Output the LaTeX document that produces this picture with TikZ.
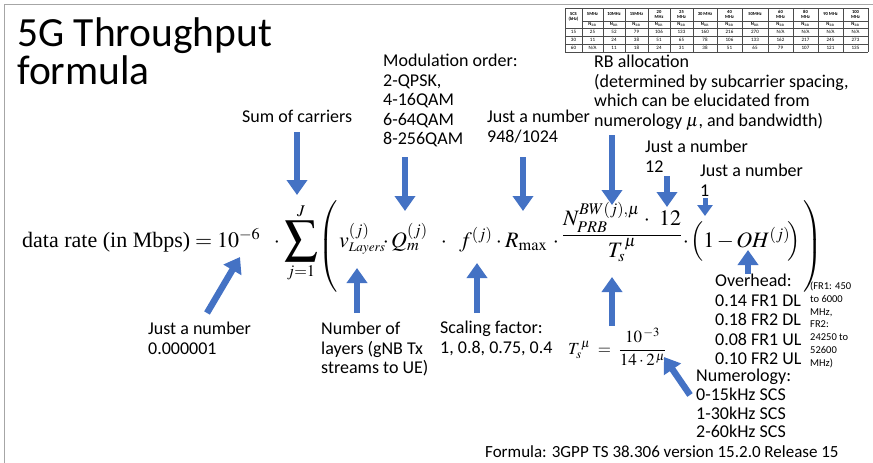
\documentclass[tikz,border=0pt]{standalone}
\usepackage{mathptmx}
\usepackage[no-math]{fontspec}
\usepackage{graphicx}
\setmainfont{Carlito}
\newfontfamily\tms{Liberation Serif}
\usetikzlibrary{arrows.meta}
\definecolor{arrowblue}{HTML}{4472C4}
\definecolor{framegray}{HTML}{A6A6A6}
\newcommand{\tblna}{N/A}
\tikzset{
  lbl/.style={font=\fontsize{18}{19.5}\selectfont, align=left, inner sep=0pt, anchor=north west},
  arr/.style={draw=arrowblue, line width=6.5pt, -{Triangle[width=20pt,length=15pt]}},
  arrsmall/.style={draw=arrowblue, line width=5pt, -{Triangle[width=15pt,length=11pt]}},
  tblline/.style={draw=black!70, line width=0.4pt},
  tblhd/.style={font=\fontsize{4.6}{5}\selectfont\bfseries, align=center, inner sep=0pt},
  tbltxt/.style={font=\fontsize{5}{5.5}\selectfont, inner sep=0pt},
  fm/.style={inner sep=0pt, font=\fontsize{22}{24}\selectfont},
}
\begin{document}
\begin{tikzpicture}[x=1pt,y=-1pt]
\useasboundingbox (0,0) rectangle (873,463);
% frame
\draw[framegray, line width=1pt] (4,463) -- (4,4) -- (873,4);

% title
\node[anchor=north west, inner sep=0pt, align=left, font=\fontsize{41.5}{38}\selectfont] (title) at (17,17) {5G Throughput\\formula};

% table
\foreach \y in {8,28,36,44,52} \draw[tblline] (565,\y) -- (868,\y);
\draw[tblline] (582,21) -- (868,21);
\foreach \x in {565,582,603,625,648,670,693,717,742,768,793,818,843,868} \draw[tblline] (\x,8) -- (\x,52);
\node[tblhd] (scs) at (573.5,17) {SCS\\(kHz)};
\node[tbltxt] (r15) at (573.5,32) {15};
\node[tbltxt] (r30) at (573.5,40) {30};
\node[tbltxt] (r60) at (573.5,48) {60};
\foreach \a/\b/\hd/\ra/\rb/\rc [count=\i] in {
  582/603/{5MHz}/25/11/\tblna,
  603/625/{10MHz}/52/24/11,
  625/648/{15MHz}/79/38/18,
  648/670/{20\\MHz}/106/51/24,
  670/693/{25\\MHz}/133/65/31,
  693/717/{30 MHz}/160/78/38,
  717/742/{40\\MHz}/216/106/51,
  742/768/{50MHz}/270/133/65,
  768/793/{60\\MHz}/\tblna/162/79,
  793/818/{80\\MHz}/\tblna/217/107,
  818/843/{90 MHz}/\tblna/245/121,
  843/868/{100\\MHz}/\tblna/273/135} {
  \node[tblhd] (h\i) at ({(\a+\b)/2},14.5) {\hd};
  \node[tblhd] (n\i) at ({(\a+\b)/2},24.5) {N$_{\mathrm{RB}}$};
  \node[tbltxt] (a\i) at ({(\a+\b)/2},32) {\ra};
  \node[tbltxt] (b\i) at ({(\a+\b)/2},40) {\rb};
  \node[tbltxt] (c\i) at ({(\a+\b)/2},48) {\rc};
}

% main formula, piece by piece
\node[fm, anchor=base west] (fA) at (22,247) {$\mbox{\tms data rate (in Mbps)} = 10^{-6}$};
\node[fm, anchor=base] (d1) at (277,247) {$\cdot$};
\node[fm, anchor=base] (fsum) at (301,247) {$\displaystyle\mathop{\vcenter{\hbox{\scalebox{1.5}{$\displaystyle\sum$}}}}\limits_{j=1}^{J}$};
\node[fm, anchor=base west] (lp) at (318,252) {$\left(\vrule height 41pt depth 41pt width 0pt\right.$};
\node[fm, anchor=base west] (fv) at (339,247) {$v^{(j)}_{\scriptscriptstyle Layers}$};
\node[fm, anchor=base] (d2) at (386,247) {$\cdot$};
\node[fm, anchor=base west] (fQ) at (391,247) {$Q_m^{(j)}$};
\node[fm, anchor=base] (d3) at (444,247) {$\cdot$};
\node[fm, anchor=base west] (ff) at (459,247) {$f^{(j)}$};
\node[fm, anchor=base] (d4) at (499,247) {$\cdot$};
\node[fm, anchor=base west] (fR) at (505,247) {$R_{\max}$};
\node[fm, anchor=base] (d5) at (556,247) {$\cdot$};
\node[fm, anchor=base] (frac) at (622,241) {$\displaystyle\frac{\hbox to 118pt{$\displaystyle N_{PRB}^{BW(j),\mu}$\hskip 4pt$\cdot$\hfil$12$}}{T_s^{\,\mu}}$};
\node[fm, anchor=base] (d6) at (686,247) {$\cdot$};
\node[fm, anchor=base west] (fOH) at (690,247) {$\Bigl(1\mkern2mu{-}\mkern2mu OH^{(j)}\mkern-2mu\Bigr)$};
\node[fm, anchor=base west] (rp) at (802,252) {$\left.\vrule height 41pt depth 41pt width 0pt\right)$};

% Ts formula
\node[anchor=west, inner sep=0pt, font=\fontsize{17}{19}\selectfont] (tsf) at (568,347)
 {$\displaystyle T_s^{\,\mu} \;=\; \frac{10^{\,-3}}{14\cdot 2^{\,\mu}}$};

% labels
\node[lbl] (sum) at (242,110) {Sum of carriers};
\node[lbl] (mod) at (383,54) {Modulation order:\\2-QPSK,\\4-16QAM\\6-64QAM\\8-256QAM};
\node[lbl] (rmax) at (487,110) {Just a number\\948/1024};
\node[lbl] (rb) at (594,55) {RB allocation\\(determined by subcarrier spacing,\\which can be elucidated from\\numerology $\mu$, and bandwidth)};
\node[lbl] (twelve) at (645,140) {Just a number\\12};
\node[lbl] (one) at (700,164) {Just a number\\1};
\node[lbl] (tenm) at (148,322) {Just a number\\0.000001};
\node[lbl] (layers) at (321,322) {Number of\\layers (gNB Tx\\streams to UE)};
\node[lbl] (scaling) at (440,321) {Scaling factor:\\1, 0.8, 0.75, 0.4};
\node[lbl] (oh) at (715,274) {Overhead:\\0.14 FR1 DL\\0.18 FR2 DL\\0.08 FR1 UL\\0.10 FR2 UL};
\node[lbl, font=\fontsize{18}{18.7}\selectfont] (numer) at (696,369) {Numerology:\\0-15kHz SCS\\1-30kHz SCS\\2-60kHz SCS};
\node[lbl, font=\fontsize{17}{18}\selectfont] (src) at (485,445) {Formula: 3GPP TS 38.306 version 15.2.0 Release 15};
\node[lbl, font=\fontsize{10.5}{12.7}\selectfont] (fr) at (810,282) {(FR1: 450\\to 6000\\MHz,\\FR2:\\24250 to\\52600\\MHz)};

% arrow coordinates
\coordinate (sumA) at (297,132);   \coordinate (sumB) at (297,195);
\coordinate (modA) at (405,157);   \coordinate (modB) at (405,211);
\coordinate (rmaxA) at (523,157);  \coordinate (rmaxB) at (523,211);
\coordinate (rbA) at (612,135);    \coordinate (rbB) at (612,205);
\coordinate (twA) at (667,176);    \coordinate (twB) at (667,207);
\coordinate (oneA) at (705,198);   \coordinate (oneB) at (705,216);
\coordinate (tenA) at (207,313);   \coordinate (tenB) at (240,257);
\coordinate (layA) at (357,313);   \coordinate (layB) at (357,268);
\coordinate (scA) at (477,313);    \coordinate (scB) at (477,263);
\coordinate (tsA) at (612,326);    \coordinate (tsB) at (612,277);
\coordinate (ohA) at (748,274);    \coordinate (ohB) at (748,250);
\coordinate (nuA) at (690,395);    \coordinate (nuB) at (664,357);

\draw[arr] (sumA) -- (sumB);
\draw[arr] (modA) -- (modB);
\draw[arr] (rmaxA) -- (rmaxB);
\draw[arr] (rbA) -- (rbB);
\draw[arr] (twA) -- (twB);
\draw[arrsmall] (oneA) -- (oneB);
\draw[arr] (tenA) -- (tenB);
\draw[arr] (layA) -- (layB);
\draw[arr] (scA) -- (scB);
\draw[arr] (tsA) -- (tsB);
\draw[arr] (ohA) -- (ohB);
\draw[arr] (nuA) -- (nuB);
\end{tikzpicture}
\end{document}
